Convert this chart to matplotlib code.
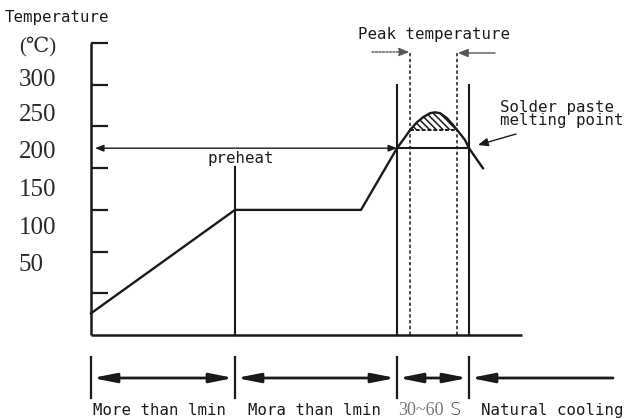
import matplotlib
matplotlib.use("Agg")
import matplotlib.pyplot as plt
import numpy as np

# ---------------- data (schematic reflow profile) ----------------
# time in seconds (schematic), temperature in degC
profile_time = [0, 60, 112.5, 127.5, 130.8, 133, 135.8, 138.3, 141.3, 143.3,
                145.4, 148.3, 150.8, 152.5, 155.8, 157.5, 163.3]
profile_temp = [26, 150, 150, 224, 237, 246, 255, 261, 266, 267,
                266, 260, 252, 246, 234, 224, 200]

axis_temp_ticks = [50, 100, 150, 200, 250, 300, 350]
temp_labels = ["(℃)", "300", "250", "200", "150", "100", "50"]

melting_point = 224          # solder paste melting point line
peak_band_base = 246         # base of the hatched peak zone
phase_bounds = [0, 60, 127.5, 157.5]   # preheat / soak / reflow / cooling
peak_window = [133, 152.5]   # dashed lines, peak temperature window
axis_end_time = 179.6
cooling_arrow_end = 217.5

phase_labels = ["More than lmin", "Mora than lmin", "30~60", "Natural cooling"]

# ---------------- figure ----------------
W, H = 631, 419
fig = plt.figure(figsize=(W / 100, H / 100), dpi=100)
ax = fig.add_axes([0, 0, 1, 1])
# pixel <-> data mapping: x_px = 91 + 2.4*t ; y_px = 335 - 0.834*T
kx, ky = 2.4, 0.834
ax.set_xlim(-91 / kx, (W - 91) / kx)
ax.set_ylim((335 - H) / ky, 335 / ky)
ax.axis("off")

def px(x, y):
    """pixel position -> data coordinates (for text placement)"""
    return (x - 91) / kx, (335 - y) / ky

ink = "#1a1a1a"
lw_main = 1.7
mono = "DejaVu Sans Mono"
fs_mono = 11.3

# axes lines
ax.plot([0, 0], [0, axis_temp_ticks[-1]], color=ink, lw=1.8, solid_capstyle="butt")
ax.plot([0, axis_end_time], [0, 0], color=ink, lw=1.8, solid_capstyle="butt")
tick_len = 17 / kx
for tv in axis_temp_ticks:
    ax.plot([0, tick_len], [tv, tv], color=ink, lw=1.6, solid_capstyle="butt")

# vertical phase lines
ax.plot([phase_bounds[1]] * 2, [0, 204], color=ink, lw=1.5)
ax.plot([phase_bounds[2]] * 2, [0, 300], color=ink, lw=1.5)
ax.plot([phase_bounds[3]] * 2, [0, 300], color=ink, lw=1.5)
for tw in peak_window:
    ax.plot([tw, tw], [0, 338], color=ink, lw=1.1, ls=(0, (2.2, 1.6)))

# profile curve
ax.plot(profile_time, profile_temp, color=ink, lw=lw_main, solid_joinstyle="round")

# melting point line
ax.plot([phase_bounds[2], phase_bounds[3]], [melting_point] * 2, color=ink, lw=1.5)

# hatched peak zone
pt = np.array(profile_time)
pT = np.array(profile_temp)
m = (pt >= peak_window[0]) & (pt <= peak_window[1])
plt.rcParams["hatch.linewidth"] = 1.1
ax.fill_between(pt[m], peak_band_base, pT[m], facecolor="none", edgecolor=ink,
                hatch="\\\\\\\\\\", linewidth=0)
ax.plot(peak_window, [peak_band_base] * 2, color=ink, lw=1.4, ls=(0, (2, 1)))

# preheat arrow
ax.annotate("", xy=(1.7, melting_point), xytext=(phase_bounds[2], melting_point),
            arrowprops=dict(arrowstyle="<|-|>,head_length=0.5,head_width=0.2",
                            mutation_scale=10, color=ink, lw=1.0,
                            shrinkA=0, shrinkB=0))
tx, ty = px(241, 158)
ax.text(tx, ty, "preheat", family=mono, fontsize=fs_mono, ha="center", va="center",
        color=ink, bbox=dict(facecolor="white", edgecolor="none", pad=0.5))

# peak temperature arrows
ya, yb = px(0, 52)[1], px(0, 53)[1]
ax.annotate("", xy=(peak_window[0] - 0.4, ya), xytext=(px(372, 0)[0], ya),
            arrowprops=dict(arrowstyle="-|>,head_length=0.6,head_width=0.25",
                            mutation_scale=10, color="#555555", lw=1.0,
                            ls=(0, (1.5, 1)), shrinkA=0, shrinkB=0))
ax.annotate("", xy=(peak_window[1] + 0.4, yb), xytext=(px(495, 0)[0], yb),
            arrowprops=dict(arrowstyle="-|>,head_length=0.6,head_width=0.25",
                            mutation_scale=10, color="#555555", lw=1.0,
                            shrinkA=0, shrinkB=0))
tx, ty = px(434, 34)
ax.text(tx, ty, "Peak temperature", family=mono, fontsize=fs_mono, ha="center",
        va="center", color=ink)

# solder paste melting point label + arrow
ax.annotate("", xy=px(478, 145), xytext=px(516, 134),
            arrowprops=dict(arrowstyle="-|>,head_length=0.6,head_width=0.25",
                            mutation_scale=10, color=ink, lw=1.0,
                            shrinkA=0, shrinkB=0))
tx, ty = px(500, 114)
ax.text(tx, ty, "Solder paste\nmelting point", family=mono, fontsize=11.3,
        ha="left", va="center", color=ink, linespacing=0.8)

# y-axis labels (offset from ticks as in the original drawing)
label_y_px = [47, 80, 115, 152, 190, 228, 265]
serif = ["Liberation Serif", "DejaVu Serif", "DejaVu Sans"]
for lab, yp in zip(temp_labels, label_y_px):
    tx, ty = px(19, yp)
    ax.text(tx, ty, lab, family=serif, fontsize=15 if lab.startswith("(") else 18,
            ha="left", va="center", color="#2a2a2a")
tx, ty = px(5, 17)
ax.text(tx, ty, "Temperature", family=mono, fontsize=fs_mono, ha="left",
        va="center", color=ink)

# bottom timeline
T_line = px(0, 378)[1]
T_top, T_bot = px(0, 357)[1], px(0, 398)[1]
for tb in phase_bounds:
    ax.plot([tb, tb], [T_bot, T_top], color=ink, lw=1.6)
big = dict(mutation_scale=10, color=ink, lw=2.0, shrinkA=0, shrinkB=0)
for a, b in zip(phase_bounds[:-1], phase_bounds[1:]):
    ax.annotate("", xy=(a + 0.6, T_line), xytext=(b - 0.6, T_line),
                arrowprops=dict(arrowstyle="<|-|>,head_length=1.4,head_width=0.28", **big))
ax.annotate("", xy=(phase_bounds[3] + 0.6, T_line), xytext=(cooling_arrow_end, T_line),
            arrowprops=dict(arrowstyle="-|>,head_length=1.4,head_width=0.28", **big))

T_lab = px(0, 410)[1]
ax.text(px(93, 0)[0], T_lab, phase_labels[0], family=mono, fontsize=fs_mono,
        ha="left", va="center", color=ink)
ax.text(px(248, 0)[0], T_lab, phase_labels[1], family=mono, fontsize=fs_mono,
        ha="left", va="center", color=ink)
ax.text(px(398, 0)[0], T_lab, phase_labels[2], family=serif, fontsize=13,
        ha="left", va="center", color="#777777")
ax.text(px(449, 0)[0], T_lab, "S", family="DejaVu Sans", fontsize=13,
        ha="left", va="center", color="#333333", fontweight="light")
ax.text(px(481, 0)[0], T_lab, phase_labels[3], family=mono, fontsize=fs_mono,
        ha="left", va="center", color=ink)

fig.savefig("out.png", dpi=100, facecolor="white")
